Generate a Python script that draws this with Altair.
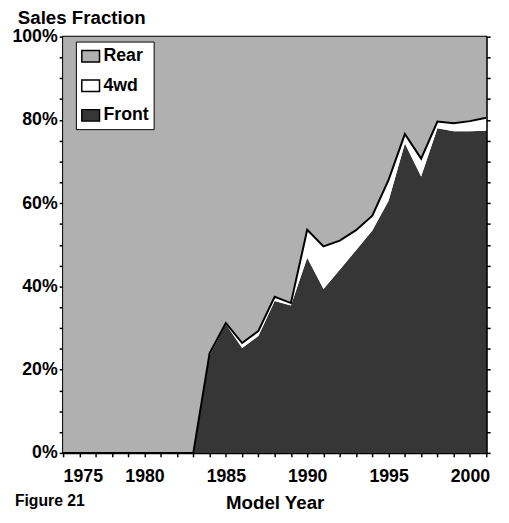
import altair as alt
import pandas as pd

# ---- data (percent of sales) ----
years = list(range(1975, 2002))
front = [0, 0, 0, 0, 0, 0, 0, 0, 0,
         23.4, 30.9, 25.2, 28.1, 36.5, 35.4, 46.9, 39.4, 44.0,
         48.7, 53.4, 60.6, 74.3, 66.4, 78.0, 77.3, 77.3, 77.4]
fourwd = [0, 0, 0, 0, 0, 0, 0, 0, 0,
          0.5, 0.3, 1.2, 1.2, 1.0, 0.6, 6.7, 10.2, 7.0,
          4.8, 3.6, 5.0, 2.3, 4.3, 1.6, 1.9, 2.4, 3.1]
types = ["Rear", "4wd", "Front"]
y_ticks = list(range(0, 101, 5))

rows = []
for i, yr in enumerate(years):
    rows.append({"Year": yr, "Type": "Front", "ord": 0, "Value": front[i]})
    rows.append({"Year": yr, "Type": "4wd", "ord": 1, "Value": fourwd[i]})
    rows.append({"Year": yr, "Type": "Rear", "ord": 2, "Value": 100 - front[i] - fourwd[i]})
df = pd.DataFrame(rows)
tot = pd.DataFrame({"Year": years, "Total": [f + w for f, w in zip(front, fourwd)]})

FONT = "Liberation Sans"
REAR = "#b0b0b0"
FRONT = "#363636"

xscale = alt.Scale(domain=[1975, 2001], nice=False, zero=False)
yscale = alt.Scale(domain=[0, 100], nice=False)

x_axis = alt.Axis(values=years, format="d",
                  labelExpr="datum.value % 5 == 0 ? datum.label : ''",
                  title="Model Year", grid=False, tickSize=4,
                  labelPadding=11, titlePadding=9,
                  labelFont=FONT, labelFontSize=18, labelFontWeight="bold",
                  titleFont=FONT, titleFontSize=19, titleFontWeight="bold")

area = alt.Chart(df).mark_area(interpolate="linear", opacity=1).encode(
    x=alt.X("Year:Q", scale=xscale, axis=x_axis),
    y=alt.Y("Value:Q", stack="zero", scale=yscale,
            axis=alt.Axis(values=y_ticks,
                          labelExpr="datum.value % 20 == 0 ? datum.value + '%' : ''",
                          title=None, grid=False, tickSize=4, labelPadding=2,
                          labelFont=FONT, labelFontSize=18, labelFontWeight="bold")),
    color=alt.Color("Type:N",
                    scale=alt.Scale(domain=types, range=[REAR, "#ffffff", FRONT]),
                    legend=alt.Legend(title=None, orient="none", legendX=13, legendY=5,
                                      symbolType="M-1,-0.65H1V0.65H-1Z", symbolSize=324,
                                      symbolStrokeColor="black", symbolStrokeWidth=1.5,
                                      symbolOpacity=1,
                                      labelFont=FONT, labelFontSize=18,
                                      labelFontWeight="bold", labelColor="black",
                                      labelOffset=3, rowPadding=11, padding=5,
                                      fillColor="white", strokeColor="black")),
    order=alt.Order("ord:Q", sort="ascending"),
)

line = alt.Chart(tot).mark_line(color="black", strokeWidth=2).encode(
    x=alt.X("Year:Q", scale=xscale, axis=x_axis),
    y=alt.Y("Total:Q", scale=yscale,
            axis=alt.Axis(orient="right", values=y_ticks, labels=False, title=None,
                          grid=False, tickSize=4)),
)

fig = alt.Chart(pd.DataFrame({"t": ["Figure 21"]})).mark_text(
    align="left", baseline="top", font=FONT, fontSize=16, fontWeight="bold", color="black"
).encode(text="t:N", x=alt.value(-49), y=alt.value(464))

chart = alt.layer(area, line, fig).properties(
    width=430, height=423,
    title=alt.TitleParams("Sales Fraction", anchor="start", dx=6, offset=0,
                          font=FONT, fontSize=19, fontWeight="bold", color="black"),
    padding={"left": 56, "top": 25, "right": 15, "bottom": 59},
    autosize=alt.AutoSizeParams(type="none"),
    background="white",
).resolve_axis(y="independent").configure_view(
    stroke="black", strokeWidth=2
).configure_axis(
    domainColor="black", domainWidth=2, tickColor="black", tickWidth=1.5,
    labelColor="black", titleColor="black"
)

chart.save("out.html", embed_options={"renderer": "svg", "actions": False})
